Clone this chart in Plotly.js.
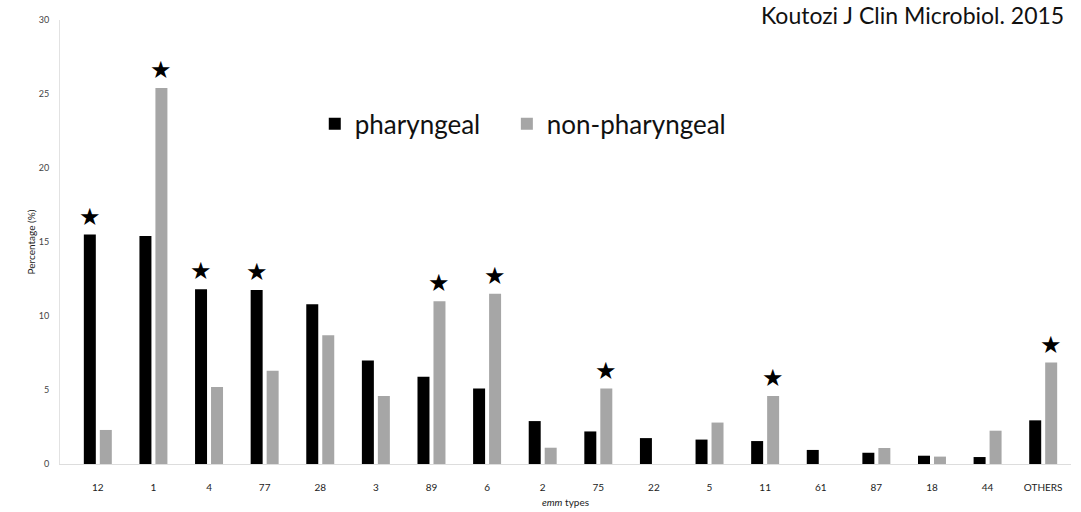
<!DOCTYPE html>
<html><head><meta charset="utf-8">
<script src="https://cdn.plot.ly/plotly-3.0.1.min.js"></script>
<style>html,body{margin:0;padding:0;background:#fff;}#chart{width:1081px;height:512px;}</style>
</head><body><div id="chart"></div>
<script>
const categories = ["12","1","4","77","28","3","89","6","2","75","22","5","11","61","87","18","44","OTHERS"];
const pharyngeal = [15.5,15.4,11.8,11.75,10.8,7.0,5.9,5.1,2.9,2.2,1.75,1.65,1.55,0.95,0.76,0.56,0.47,2.95];
const nonPharyngeal = [2.3,25.4,5.2,6.3,8.7,4.6,11.0,11.5,1.1,5.1,0,2.8,4.6,0,1.08,0.5,2.25,6.85];
// which bar carries a significance star: "p" pharyngeal, "n" non-pharyngeal, "" none
const stars = ["p","n","p","p","","","n","n","","n","","","n","","","","","n"];
const yTicks = [0,5,10,15,20,25,30];

const fontFam = "Lato, 'Open Sans', sans-serif";

const traces = [
  {type:"bar", name:"pharyngeal", x:categories, y:pharyngeal, legend:"legend",
   marker:{color:"#000000", line:{width:0}}},
  {type:"bar", name:"non-pharyngeal", x:categories, y:nonPharyngeal, legend:"legend2",
   marker:{color:"#a6a6a6", line:{width:0}}}
];

const annotations = [];
categories.forEach((c,i)=>{
  if(!stars[i]) return;
  const isP = stars[i]==="p";
  // x given as category index (numeric strings would be misread as indices)
  annotations.push({x:i, y:isP?pharyngeal[i]:nonPharyngeal[i], xref:"x", yref:"y",
    text:"★", showarrow:false, xshift:isP?-8:8, yshift:2, yanchor:"bottom",
    font:{size:24, color:"#000", family:"DejaVu Sans"}});
});
annotations.push({xref:"paper", yref:"paper", x:0.9955, y:1.047, xanchor:"right", yanchor:"top",
  text:"Koutozi J Clin Microbiol. 2015", showarrow:false,
  font:{size:23, color:"#111", family:fontFam}});

const legendBase = {orientation:"h", y:0.766, xanchor:"left", yanchor:"middle",
  font:{size:26, color:"#111", family:fontFam}, bgcolor:"rgba(0,0,0,0)", itemwidth:30};

const layout = {
  width:1081, height:512,
  margin:{l:60, r:10, t:20, b:48},
  paper_bgcolor:"#fff", plot_bgcolor:"#fff",
  barmode:"group", bargap:0.425, bargroupgap:0.25,
  showlegend:true,
  legend:Object.assign({}, legendBase, {x:0.252}),
  legend2:Object.assign({}, legendBase, {x:0.442}),
  xaxis:{type:"category", range:[-0.68,17.5], showgrid:false, zeroline:false,
    showline:true, linecolor:"#dddddd", linewidth:1, ticks:"",
    tickfont:{size:10, color:"#222", family:fontFam}, ticklabelstandoff:14,
    title:{text:"<i>emm</i> types", font:{size:10, color:"#222", family:fontFam}, standoff:6}},
  yaxis:{range:[0,30], tickvals:yTicks, ticktext:yTicks.map(String), showgrid:false, zeroline:false,
    showline:true, linecolor:"#e2e2e2", linewidth:1, ticks:"",
    tickfont:{size:9, color:"#444", family:fontFam}, ticklabelstandoff:8,
    title:{text:"Percentage (%)", font:{size:10, color:"#222", family:fontFam}, standoff:1}},
  annotations:annotations
};

Plotly.newPlot("chart", traces, layout, {displayModeBar:false, staticPlot:true});
</script></body></html>
